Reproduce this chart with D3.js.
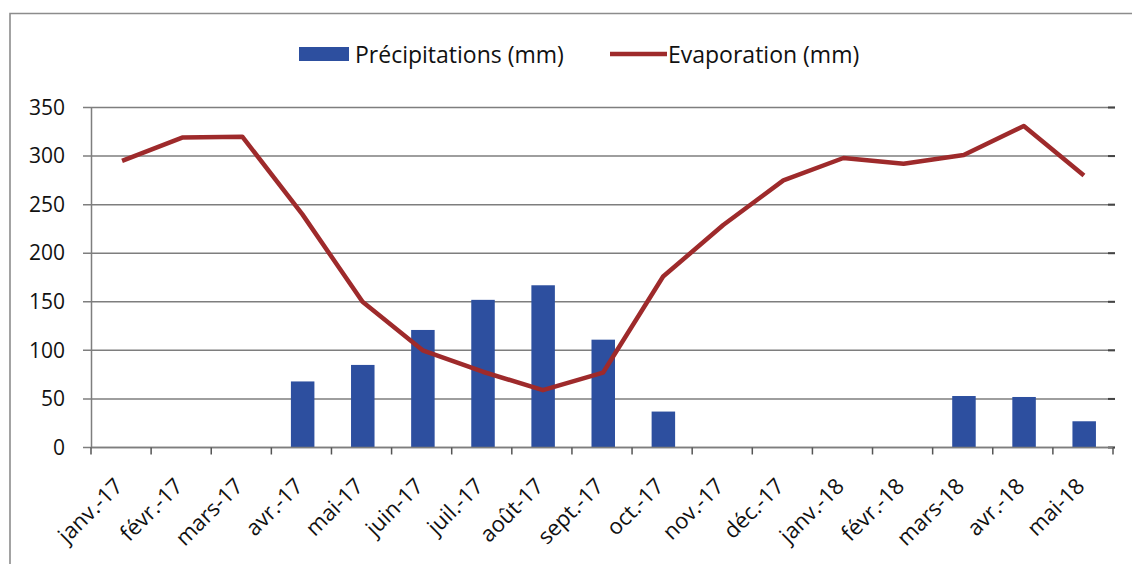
<!DOCTYPE html>
<html>
<head>
<meta charset="utf-8">
<script src="https://cdn.jsdelivr.net/npm/d3@7"></script>
<style>
  html, body { margin: 0; padding: 0; background: #ffffff; }
  svg { display: block; }
  text { font-family: "Open Sans", Lato, sans-serif; fill: #111; }
</style>
</head>
<body>
<svg id="chart" width="1132" height="564"></svg>
<script>
// Monthly precipitation and evaporation, Jan 2017 – May 2018
const months = ["janv.-17", "févr.-17", "mars-17", "avr.-17", "mai-17", "juin-17",
                "juil.-17", "août-17", "sept.-17", "oct.-17", "nov.-17", "déc.-17",
                "janv.-18", "févr.-18", "mars-18", "avr.-18", "mai-18"];
const precipitation = [0, 0, 0, 68, 85, 121, 152, 167, 111, 37, 0, 0, 0, 0, 53, 52, 27];
const evaporation = [295, 319, 320, 240, 150, 100, 78, 59, 77, 176, 229, 275, 298, 292, 301, 331, 280];
const yTicks = [0, 50, 100, 150, 200, 250, 300, 350];
const seriesNames = ["Précipitations (mm)", "Evaporation (mm)"];

const barColor = "#2d4f9f";
const lineColor = "#9e2a2b";
const gridColor = "#7e7e7e";

const svg = d3.select("#chart");
const margin = { left: 91, right: 1113, top: 107.5, bottom: 447.5 };

const x = d3.scaleBand().domain(months).range([margin.left, margin.right]).paddingInner(0).paddingOuter(0);
const y = d3.scaleLinear().domain([0, 350]).range([margin.bottom, margin.top]);

// outer frame
svg.append("path")
  .attr("d", "M10,570 L10,13.5 L1140,13.5")
  .attr("fill", "none").attr("stroke", "#8c8c8c").attr("stroke-width", 1.6);

// horizontal gridlines with left tick stubs
const grid = svg.append("g");
grid.selectAll("line.grid").data(yTicks).join("line")
  .attr("class", "grid")
  .attr("x1", margin.left - 8).attr("x2", margin.right + 2)
  .attr("y1", d => y(d)).attr("y2", d => y(d))
  .attr("stroke", gridColor).attr("stroke-width", 1.5);
grid.selectAll("line.rstub").data(yTicks).join("line")
  .attr("class", "rstub")
  .attr("x1", margin.right - 5).attr("x2", margin.right + 2)
  .attr("y1", d => y(d)).attr("y2", d => y(d))
  .attr("stroke", "#444").attr("stroke-width", 2);

// y axis
const yAxis = d3.axisLeft(y).tickValues(yTicks).tickSize(0).tickPadding(26);
const yg = svg.append("g").attr("transform", `translate(${margin.left},0)`).call(yAxis);
yg.select(".domain").attr("stroke", gridColor).attr("stroke-width", 1.5);
yg.selectAll("text").style("font-size", "21px").attr("fill", "#111").attr("font-family", "'Open Sans', sans-serif");

// bars
svg.append("g").selectAll("rect").data(months).join("rect")
  .attr("x", (d) => x(d) + x.bandwidth() / 2 - 11.5 + 1)
  .attr("width", 23.5)
  .attr("y", (d, i) => y(precipitation[i]))
  .attr("height", (d, i) => y(0) - y(precipitation[i]))
  .attr("fill", barColor);

// x axis with tick marks at category boundaries
const xg = svg.append("g");
xg.append("line")
  .attr("x1", margin.left).attr("x2", margin.right)
  .attr("y1", y(0)).attr("y2", y(0))
  .attr("stroke", gridColor).attr("stroke-width", 1.5);
const bounds = months.map(m => x(m)).concat([margin.right]);
xg.selectAll("line.tick").data(bounds).join("line")
  .attr("class", "tick")
  .attr("x1", d => d).attr("x2", d => d)
  .attr("y1", y(0)).attr("y2", y(0) + 7)
  .attr("stroke", "#555").attr("stroke-width", 1.5);
xg.selectAll("text").data(months).join("text")
  .attr("transform", d => `translate(${x(d) + x.bandwidth() / 2 + 3},${y(0) + 40}) rotate(-45)`)
  .attr("text-anchor", "end")
  .style("font-size", "22px")
  .text(d => d);

// evaporation line
const line = d3.line()
  .x((d, i) => x(months[i]) + x.bandwidth() / 2 + 1)
  .y(d => y(d));
svg.append("path")
  .datum(evaporation)
  .attr("d", line)
  .attr("fill", "none")
  .attr("stroke", lineColor)
  .attr("stroke-width", 4.5)
  .attr("stroke-linejoin", "round");

// legend
const legend = svg.append("g");
legend.append("rect").attr("x", 299).attr("y", 47).attr("width", 50).attr("height", 14).attr("fill", barColor);
legend.append("text").attr("x", 355).attr("y", 63).style("font-size", "23px").text(seriesNames[0]);
legend.append("line").attr("x1", 610).attr("x2", 667).attr("y1", 54).attr("y2", 54)
  .attr("stroke", lineColor).attr("stroke-width", 4.5);
legend.append("text").attr("x", 668).attr("y", 63).style("font-size", "23px").text(seriesNames[1]);
</script>
</body>
</html>
